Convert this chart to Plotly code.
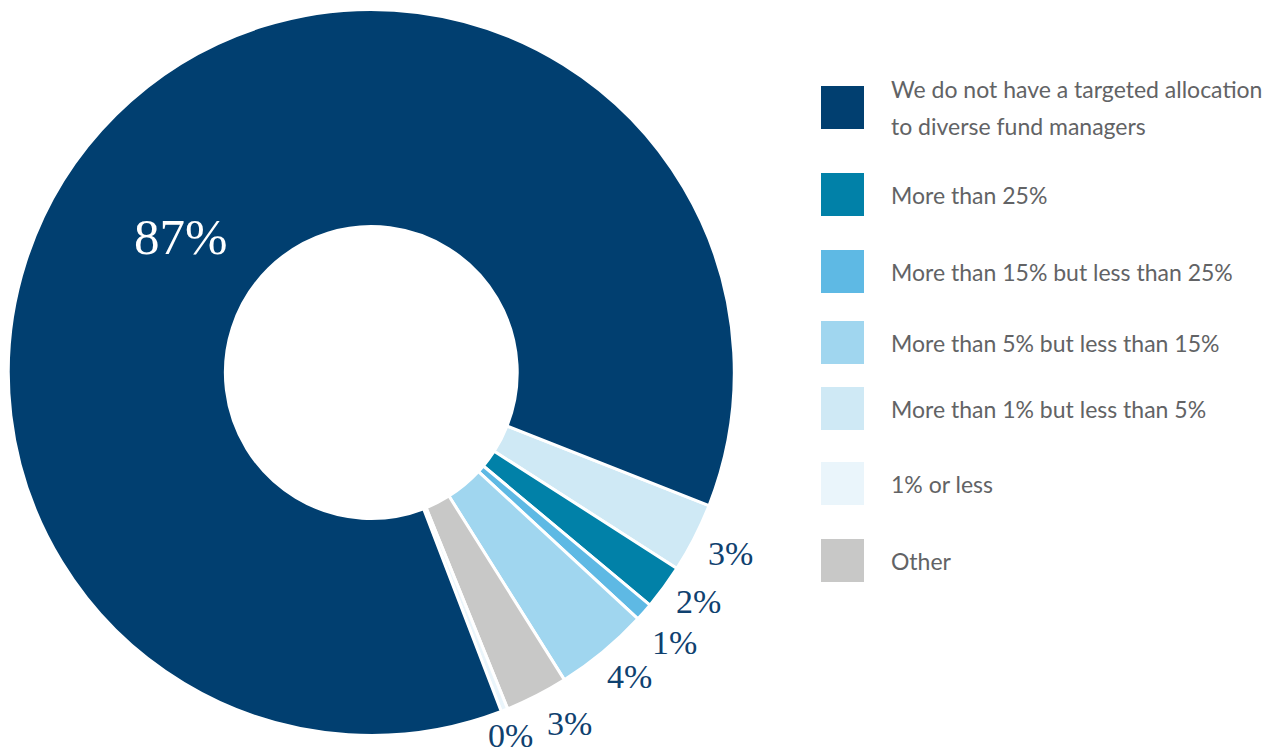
import math
import plotly.graph_objects as go

# Survey answers, listed in legend order
categories = [
    "We do not have a targeted allocation<br>to diverse fund managers",
    "More than 25%",
    "More than 15% but less than 25%",
    "More than 5% but less than 15%",
    "More than 1% but less than 5%",
    "1% or less",
    "Other",
]
shares = [86.8, 2.0, 0.8, 4.2, 3.1, 0.3, 2.8]
colors = ["#013f70", "#0181a8", "#5eb9e4", "#a0d6ef", "#cfe9f5", "#eaf5fb", "#c8c8c7"]
# Order in which the categories run clockwise around the ring
ring_order = [4, 1, 2, 3, 6, 5, 0]

# ---- layout constants (pixels) ----
W, H = 1282, 756
CX, CY, R = 371.3, 372.5, 363.0
HOLE = 0.402
START_ANGLE = 111.5          # degrees clockwise from 12 o'clock
# outside labels: (angle shift in degrees, distance from centre) per ring slot
OUT_LABEL_POS = [(-0.4, 402), (-1.3, 399), (0.3, 406), (-0.6, 399), (-2.3, 403), (0.6, 389)]
IN_LABEL_R, IN_LABEL_ANGLE = 234.0, 305.4
LEGEND_BOX_X, LEGEND_BOX = 821, 43
LEGEND_TEXT_X = 889
LEGEND_ROW_TOP = [86, 173, 250, 321, 387, 462, 539]
LINE_GAP = 36

LABEL_FONT = "Liberation Serif"
LEGEND_FONT = "Lato"
LABEL_COLOR = "#0f416f"
LEGEND_COLOR = "#626365"


def px_to_paper(x, y):
    return x / W, 1 - y / H


ring_labels = [categories[i] for i in ring_order]
ring_values = [shares[i] for i in ring_order]
ring_colors = [colors[i] for i in ring_order]

fig = go.Figure()
fig.add_trace(go.Pie(
    labels=ring_labels,
    values=ring_values,
    marker=dict(colors=ring_colors, line=dict(color="white", width=3)),
    hole=HOLE,
    sort=False,
    direction="clockwise",
    rotation=START_ANGLE,
    textinfo="none",
    hoverinfo="label+percent",
    showlegend=False,
    domain=dict(x=[(CX - R) / W, (CX + R) / W],
                y=[1 - (CY + R) / H, 1 - (CY - R) / H]),
))

annotations = []
shapes = []

# value labels: small slices outside the ring, the large one inside it
total = sum(ring_values)
acc = 0.0
for slot, (idx, v) in enumerate(zip(ring_order, ring_values)):
    mid = START_ANGLE + (acc + v / 2) / total * 360
    acc += v
    text = f"{round(v)}%"
    if idx == 0:
        ang = math.radians(IN_LABEL_ANGLE)
        rr, size, col = IN_LABEL_R, 51, "white"
    else:
        shift, rr = OUT_LABEL_POS[slot]
        ang = math.radians(mid + shift)
        size, col = 34, LABEL_COLOR
    x, y = px_to_paper(CX + rr * math.sin(ang), CY - rr * math.cos(ang))
    annotations.append(dict(
        x=x, y=y, xref="paper", yref="paper", text=text, showarrow=False,
        xanchor="center", yanchor="middle",
        font=dict(family=LABEL_FONT, size=size, color=col),
    ))

# legend: colour squares with category text
for cat, col, top in zip(categories, colors, LEGEND_ROW_TOP):
    x0, y1 = px_to_paper(LEGEND_BOX_X, top)
    x1, y0 = px_to_paper(LEGEND_BOX_X + LEGEND_BOX, top + LEGEND_BOX)
    shapes.append(dict(type="rect", xref="paper", yref="paper",
                       x0=x0, x1=x1, y0=y0, y1=y1,
                       fillcolor=col, line=dict(width=0)))
    lines = cat.split("<br>")
    center = top + LEGEND_BOX / 2
    for k, line in enumerate(lines):
        ly = center + (k - (len(lines) - 1) / 2) * LINE_GAP
        tx, ty = px_to_paper(LEGEND_TEXT_X, ly)
        annotations.append(dict(
            x=tx, y=ty, xref="paper", yref="paper", text=line, showarrow=False,
            xanchor="left", yanchor="middle",
            font=dict(family=LEGEND_FONT, size=23, color=LEGEND_COLOR),
        ))

fig.update_layout(
    width=W, height=H,
    margin=dict(l=0, r=0, t=0, b=0),
    paper_bgcolor="white", plot_bgcolor="white",
    annotations=annotations, shapes=shapes,
)

fig.write_html("out.html")
